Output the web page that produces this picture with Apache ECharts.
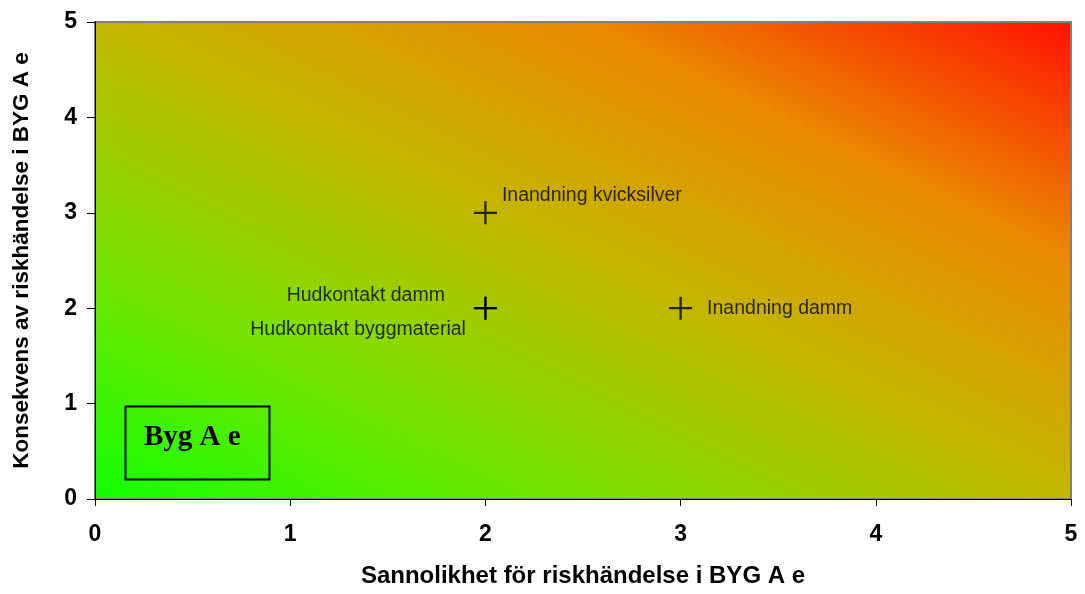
<!DOCTYPE html>
<html>
<head>
<meta charset="utf-8">
<script src="https://cdn.jsdelivr.net/npm/echarts@6/dist/echarts.min.js"></script>
<style>
  html, body { margin: 0; padding: 0; background: #fff; }
  #chart { width: 1085px; height: 594px; }
</style>
</head>
<body>
<div id="chart"></div>
<script>
// risk points: sannolikhet (x), konsekvens (y)
var riskNames = ['Inandning kvicksilver', 'Hudkontakt damm', 'Hudkontakt byggmaterial', 'Inandning damm'];
var sannolikhet = [2, 2, 2, 3];
var konsekvens = [3, 2, 2, 2];
var xTicks = [0, 1, 2, 3, 4, 5];
var yTicks = [0, 1, 2, 3, 4, 5];

var chart = echarts.init(document.getElementById('chart'));

// label placement per point
var labelPos = [
  { position: 'right', offset: [0, -17] },
  { position: 'left', offset: [-24, -13] },
  { position: 'left', offset: [-3, 21] },
  { position: 'right', offset: [10, 0] }
];

var points = [];
for (var i = 0; i < riskNames.length; i++) {
  points.push({
    value: [sannolikhet[i], konsekvens[i]],
    name: riskNames[i],
    label: {
      show: true,
      formatter: riskNames[i],
      position: labelPos[i].position,
      offset: labelPos[i].offset
    }
  });
}

// plot area in pixels: left 95, top 22, right 1071, bottom 499
// gradient runs perpendicular to the anti-diagonal so both off corners meet the middle colour
var bg = new echarts.graphic.LinearGradient(95, 499, 470, -270, [
  { offset: 0, color: '#10ff00' },
  { offset: 0.25, color: '#78e400' },
  { offset: 0.5, color: '#c2b800' },
  { offset: 0.75, color: '#ea8a00' },
  { offset: 1, color: '#ff1200' }
], true);

var option = {
  animation: false,
  grid: {
    left: 95,
    right: 14,
    top: 22,
    bottom: 95,
    show: true,
    borderColor: '#808080',
    borderWidth: 2,
    backgroundColor: bg
  },
  xAxis: {
    type: 'value',
    min: 0,
    max: 5,
    interval: 1,
    name: 'Sannolikhet för riskhändelse i BYG A e',
    nameLocation: 'middle',
    nameGap: 65,
    nameTextStyle: { fontFamily: 'Liberation Sans', fontWeight: 'bold', fontSize: 24, color: '#000' },
    axisLine: { lineStyle: { color: '#000', width: 1 } },
    axisTick: { show: true, length: 7, lineStyle: { color: '#000' } },
    axisLabel: {
      margin: 24,
      fontFamily: 'Liberation Sans', fontWeight: 'bold', fontSize: 23, color: '#000',
      formatter: function (v) { return xTicks.indexOf(v) >= 0 ? String(v) : ''; }
    },
    splitLine: { show: false }
  },
  yAxis: {
    type: 'value',
    min: 0,
    max: 5,
    interval: 1,
    name: 'Konsekvens av riskhändelse i BYG A e',
    nameLocation: 'middle',
    nameGap: 62,
    nameTextStyle: { fontFamily: 'Liberation Sans', fontWeight: 'bold', fontSize: 22.5, color: '#000' },
    axisLine: { show: true, lineStyle: { color: '#000', width: 1 } },
    axisTick: { show: true, length: 8, lineStyle: { color: '#000' } },
    axisLabel: {
      margin: 18,
      fontFamily: 'Liberation Sans', fontWeight: 'bold', fontSize: 23, color: '#000',
      formatter: function (v) { return yTicks.indexOf(v) >= 0 ? String(v) : ''; }
    },
    splitLine: { show: false }
  },
  series: [{
    type: 'scatter',
    symbol: 'path://M9,0h2v20h-2z M0,9h20v2h-20z',
    symbolSize: 23,
    itemStyle: { color: '#000' },
    label: {
      fontFamily: 'Liberation Sans',
      fontSize: 19.5,
      color: '#000'
    },
    data: points
  }],
  graphic: [{
    type: 'rect',
    left: 123,
    top: 404,
    shape: { width: 144, height: 73 },
    style: { fill: 'none', stroke: '#000', lineWidth: 2 }
  }, {
    type: 'text',
    x: 144,
    y: 438,
    style: {
      text: 'Byg A e',
      font: 'bold 29px "Liberation Serif"',
      fill: '#000',
      align: 'left',
      verticalAlign: 'middle'
    }
  }]
};

chart.setOption(option);
</script>
</body>
</html>
